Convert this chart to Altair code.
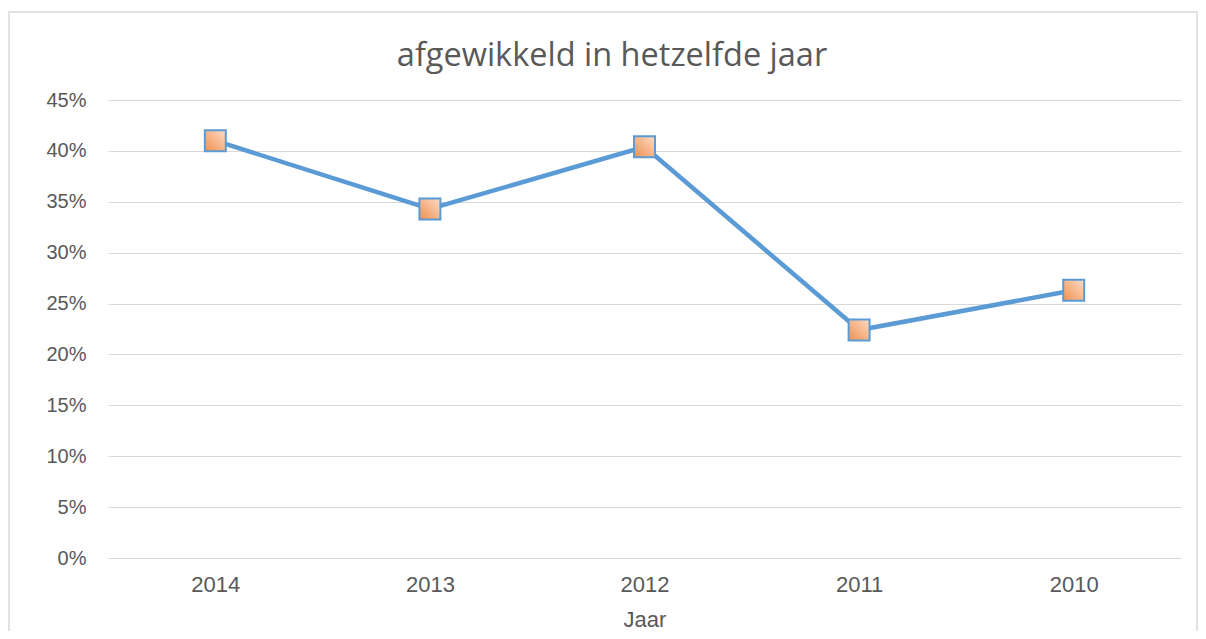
import altair as alt
import pandas as pd

years = ["2014", "2013", "2012", "2011", "2010"]
values = [0.410, 0.343, 0.404, 0.224, 0.263]
y_ticks = [0, 0.05, 0.10, 0.15, 0.20, 0.25, 0.30, 0.35, 0.40, 0.45]
title_text = "afgewikkeld in hetzelfde jaar"

df = pd.DataFrame({"Jaar": years, "waarde": values})

W, H = 1073, 458
PL, PT, PR, PB = 100, 92, 17, 73

x_enc = alt.X(
    "Jaar:O",
    sort=years,
    title="Jaar",
    axis=alt.Axis(
        labelAngle=0,
        labelFont="Liberation Sans",
        labelFontSize=22,
        labelColor="#595959",
        labelPadding=16,
        ticks=False,
        domain=False,
        grid=False,
        titleFont="Liberation Sans",
        titleFontSize=22,
        titleFontWeight="normal",
        titleColor="#595959",
        titleBaseline="alphabetic",
        titleY=68,
    ),
)
y_enc = alt.Y(
    "waarde:Q",
    scale=alt.Scale(domain=[0, 0.45], nice=False),
    axis=alt.Axis(
        values=y_ticks,
        format=".0%",
        title=None,
        labelFont="Liberation Sans",
        labelFontSize=20,
        labelColor="#595959",
        labelPadding=22,
        ticks=False,
        domain=False,
        grid=True,
        gridColor="#d9d9d9",
        gridWidth=1.2,
    ),
)

line = alt.Chart(df).mark_line(color="#5B9BD5", strokeWidth=4.5).encode(x=x_enc, y=y_enc)

points = alt.Chart(df).mark_point(
    shape="square",
    filled=True,
    size=440,
    opacity=1,
    fill=alt.Gradient(
        gradient="linear",
        stops=[
            alt.GradientStop(color="#FCDCC6", offset=0),
            alt.GradientStop(color="#F0904F", offset=1),
        ],
        x1=1, y1=0, x2=0, y2=1,
    ),
    stroke="#5B9BD5",
    strokeWidth=2,
).encode(x=x_enc, y=y_enc)

frame = alt.Chart(pd.DataFrame({"k": [0]})).mark_rect(
    fill=None, fillOpacity=0, stroke="#d9d9d9", strokeWidth=1.5
).encode(
    x=alt.value(-99),
    x2=alt.value(W + PR - 1),
    y=alt.value(-88),
    y2=alt.value(H + PB + 20),
)

title = alt.Chart(pd.DataFrame({"t": [title_text]})).mark_text(
    font="Open Sans",
    fontSize=32.5,
    color="#595959",
    align="center",
    baseline="alphabetic",
).encode(
    text="t:N",
    x=alt.value(504),
    y=alt.value(-34),
)

chart = alt.layer(frame, line, points, title).properties(
    width=W,
    height=H,
    autosize=alt.AutoSizeParams(type="none"),
    padding={"left": PL, "top": PT, "right": PR, "bottom": PB},
).configure_view(stroke=None)

chart.save("out.html", embed_options={"renderer": "svg", "actions": False})
